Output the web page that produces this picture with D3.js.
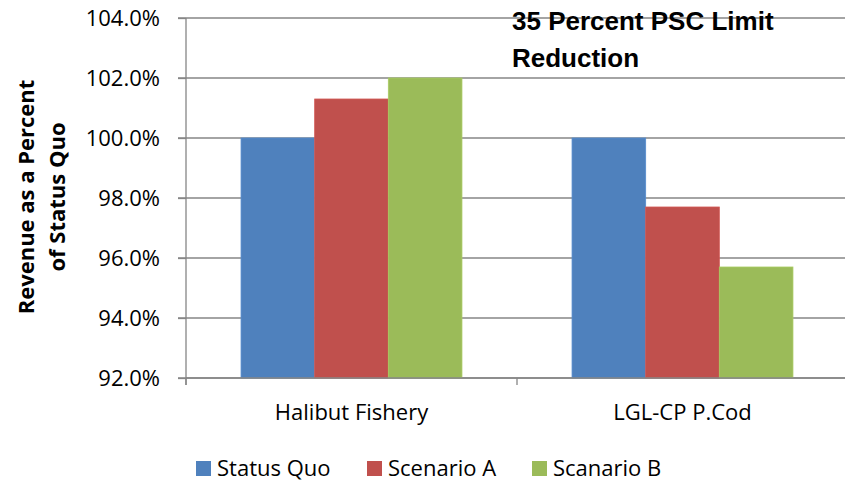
<!DOCTYPE html>
<html><head><meta charset="utf-8">
<script src="https://cdn.jsdelivr.net/npm/d3@7"></script>
<style>html,body{margin:0;padding:0;background:#fff;}</style>
</head><body>
<script>
const categories = ["Halibut Fishery", "LGL-CP P.Cod"];
const seriesNames = ["Status Quo", "Scenario A", "Scanario B"];
const statusQuo = [100.0, 100.0];
const scenarioA = [101.3, 97.7];
const scenarioB = [102.0, 95.7];
const yTicks = [92, 94, 96, 98, 100, 102, 104];
const colors = ["#4F81BD", "#C0504D", "#9BBB59"];
const titleLines = ["35 Percent PSC Limit", "Reduction"];
const yTitleLines = ["Revenue as a Percent", "of Status Quo"];

const W = 845, H = 482;
const svg = d3.select("body").append("svg").attr("width", W).attr("height", H);
const m = {left: 186, right: 848, top: 18, bottom: 378};

const x0 = d3.scaleBand().domain(categories).range([m.left, m.right]).paddingInner(0.3326).paddingOuter(0.1663);
const x1 = d3.scaleBand().domain(seriesNames).range([0, x0.bandwidth()]);
const y = d3.scaleLinear().domain([92, 104]).range([m.bottom, m.top]);

const tickFont = "'Open Sans', sans-serif";
// gridlines
svg.append("g").selectAll("line").data(yTicks).join("line")
  .attr("x1", m.left - 8).attr("x2", W).attr("y1", d => y(d)).attr("y2", d => y(d))
  .attr("stroke", "#868686").attr("stroke-width", 1.3);

// bars
const data = categories.map((c, i) => ({cat: c, vals: [statusQuo[i], scenarioA[i], scenarioB[i]]}));
const g = svg.append("g");
data.forEach(d => {
  d.vals.forEach((v, j) => {
    g.append("rect")
      .attr("x", x0(d.cat) + x1(seriesNames[j]))
      .attr("y", y(v))
      .attr("width", x1.bandwidth())
      .attr("height", y(92) - y(v))
      .attr("fill", colors[j])
      .attr("stroke", d3.color(colors[j]).brighter(0.25))
      .attr("stroke-width", 0.8);
  });
});

// y axis
const yAxis = d3.axisLeft(y).tickValues(yTicks).tickFormat(d => d3.format(".1f")(d) + "%").tickSize(8).tickPadding(18);
const ya = svg.append("g").attr("transform", `translate(${m.left},0)`).call(yAxis);
ya.select(".domain").attr("stroke", "#868686").attr("stroke-width", 1.3).attr("d", `M0,${m.top}V${m.bottom + 7}`);
ya.selectAll(".tick line").attr("stroke", "#868686").attr("stroke-width", 1.3);
ya.selectAll("text").attr("font-family", tickFont).attr("font-size", 22).attr("fill", "#000").attr("dy", "0.36em");

// x axis
const xAxis = d3.axisBottom(x0).tickSize(0).tickPadding(26);
const xa = svg.append("g").attr("transform", `translate(0,${m.bottom})`).call(xAxis);
xa.select(".domain").attr("stroke", "#868686").attr("stroke-width", 1.3).attr("d", `M${m.left},0H${W}`);
xa.selectAll("text").attr("font-family", tickFont).attr("font-size", 22).attr("fill", "#000");
// category separators
const seps = [m.left, (x0(categories[0]) + x0.bandwidth() + x0(categories[1])) / 2];
svg.append("g").selectAll("line").data(seps).join("line")
  .attr("x1", d => d).attr("x2", d => d).attr("y1", m.bottom).attr("y2", m.bottom + 7)
  .attr("stroke", "#868686").attr("stroke-width", 1.3);

// title
svg.append("text").attr("x", 512).attr("y", 30)
  .attr("font-family", "'Liberation Sans', Arial, sans-serif").attr("font-weight", "bold").attr("font-size", 26)
  .selectAll("tspan").data(titleLines).join("tspan")
  .attr("x", 512).attr("dy", (d, i) => i === 0 ? 0 : 37).text(d => d);

// y title
const yt = svg.append("text").attr("transform", "translate(0,197) rotate(-90)")
  .attr("text-anchor", "middle").attr("font-family", tickFont).attr("font-weight", "bold").attr("font-size", 22);
yt.selectAll("tspan").data(yTitleLines).join("tspan")
  .attr("x", 0).attr("y", (d, i) => i === 0 ? 34 : 65).text(d => d);

// legend
const legX = [196, 367, 532];
const lg = svg.append("g");
seriesNames.forEach((s, i) => {
  lg.append("rect").attr("x", legX[i]).attr("y", 461).attr("width", 15).attr("height", 15).attr("fill", colors[i]);
  lg.append("text").attr("x", legX[i] + 21).attr("y", 476).attr("font-family", tickFont).attr("font-size", 22).text(s);
});
</script>
</body></html>
